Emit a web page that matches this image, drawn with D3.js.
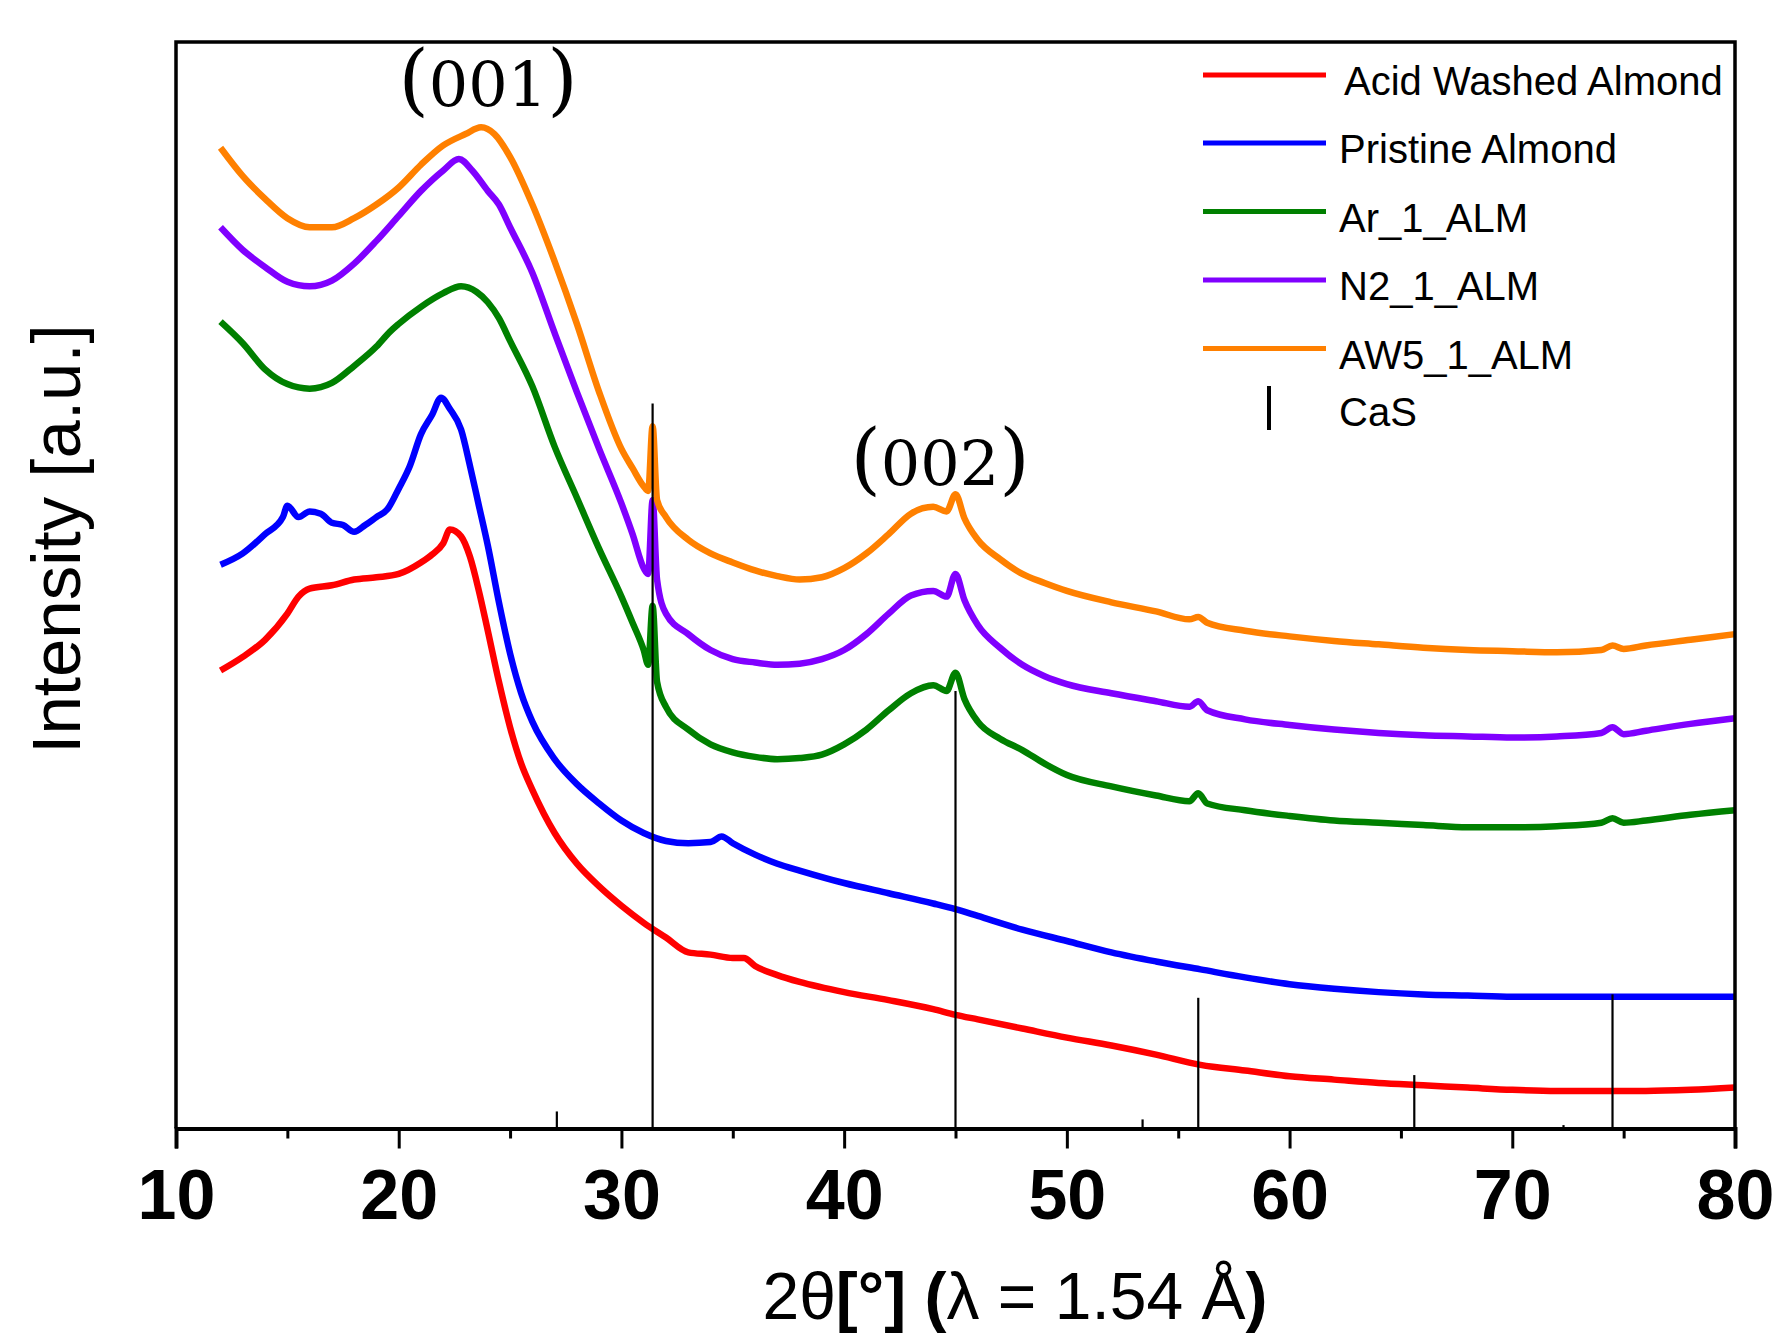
<!DOCTYPE html>
<html>
<head>
<meta charset="utf-8">
<script src="https://cdn.jsdelivr.net/npm/d3@7"></script>
<style>
  body { margin: 0; background: #fff; }
  svg { display: block; }
</style>
</head>
<body>
<div id="chart"></div>
<script>
const width = 1782;
const height = 1340;

// 2theta (deg) vs intensity (a.u., offset stacked)
const acidWashed = [[12,403],[13,415],[14,430],[15,453],[15.5,468],[16,475],[17,478],[18,483],[19,485],[20,488],[21,498],[21.5,505],[22,515],[22.3,527],[22.8,521],[23.2,503],[23.6,473],[24,438],[24.5,393],[25,353],[25.5,321],[26,298],[27,260],[28,233],[29,213],[30,196],[31,181],[32,168],[33,155],[34,153],[35,150],[35.5,150],[36,143],[37,135],[38,129],[40,120],[42,113],[44,105],[45,100],[46,96],[48,88],[50,80],[52,73],[54,65],[56,56],[58,51],[60,46],[62,43],[64,40],[66,38],[68,36],[70,34],[72,33],[74,33],[76,33],[78,34],[80,36]];

const pristine = [[12,496],[13,506],[14,523],[14.8,538],[15,548],[15.5,538],[16,543],[16.5,541],[17,533],[17.5,531],[18,525],[18.5,531],[19,538],[19.5,545],[20,563],[20.5,583],[21,611],[21.5,628],[21.9,643],[22.3,633],[22.8,615],[23.2,583],[23.6,548],[24,513],[24.5,463],[25,418],[25.5,383],[26,358],[27,325],[28,303],[29,286],[30,271],[31,260],[32,253],[33,251],[34,252],[34.5,257],[35,251],[36,241],[37,233],[38,227],[40,216],[42,207],[44,198],[45,193],[46,187],[48,175],[50,165],[52,155],[54,147],[56,140],[58,133],[60,127],[62,123],[64,120],[66,118],[68,117],[70,116],[72,116],[75,116],[78,116],[80,116]];

const ar1 = [[12,710],[13,691],[14,668],[15,655],[16,651],[17,656],[18,671],[19,688],[19.6,701],[20,708],[21,723],[22,735],[22.8,741],[23.5,736],[24,727],[24.5,713],[25,693],[26,653],[27,600],[28,555],[29,510],[30,468],[30.5,445],[31,421],[31.2,408],[31.4,460],[31.6,393],[32,371],[33,351],[34,338],[35,331],[36,327],[37,325],[38,326],[39,329],[40,338],[41,351],[42,368],[43,383],[44,390],[44.6,385],[45,401],[45.4,378],[46,358],[47,343],[48,333],[49,321],[50,311],[52,301],[54,293],[55.5,288],[55.9,295],[56.3,286],[58,280],[60,275],[62,271],[64,269],[66,267],[68,265],[70,265],[72,266],[74,269],[74.5,273],[75,269],[76,271],[78,276],[80,280]];

const n2 = [[12,793],[13,773],[14,758],[15,745],[16,741],[17,746],[18,761],[19,781],[20,803],[21,825],[22,843],[22.7,853],[23.3,843],[24,825],[24.5,813],[25,793],[26,753],[27,700],[28,648],[29,598],[30,550],[30.5,523],[31,493],[31.2,488],[31.4,553],[31.6,483],[32,453],[33,435],[34,421],[35,413],[36,410],[37,408],[38,409],[39,413],[40,421],[41,435],[42,453],[43,469],[44,473],[44.6,468],[45,488],[45.4,465],[46,443],[47,423],[48,408],[49,398],[50,391],[52,383],[54,376],[55.5,371],[55.9,376],[56.3,368],[58,360],[60,355],[62,351],[64,348],[66,346],[68,345],[70,344],[72,345],[74,348],[74.5,353],[75,347],[76,350],[78,356],[80,361]];

const aw5 = [[12,863],[13,838],[14,818],[15,801],[16,793],[17,793],[18,801],[19,813],[20,828],[21,848],[22,865],[23,875],[23.7,881],[24.3,875],[25,855],[26,813],[27,763],[28,708],[29,648],[30,598],[30.5,581],[31,565],[31.2,561],[31.4,618],[31.6,553],[32,538],[33,518],[34,506],[35,498],[36,491],[37,486],[38,483],[39,485],[40,493],[41,506],[42,523],[43,541],[44,547],[44.6,543],[45,558],[45.4,537],[46,518],[47,501],[48,488],[49,480],[50,473],[52,463],[54,455],[55.5,448],[55.9,450],[56.3,445],[58,438],[60,433],[62,429],[64,426],[66,423],[68,421],[70,420],[72,419],[74,421],[74.5,425],[75,422],[76,425],[78,430],[80,435]];

// CaS reference pattern (stick positions and heights)
const casTheta = [27.1, 31.4, 45.0, 53.4, 55.9, 65.6, 72.3, 74.5];
const casHeight = [15, 638, 385, 8, 115, 47, 3, 118];

const seriesNames = ["Acid Washed Almond", "Pristine Almond", "Ar_1_ALM", "N2_1_ALM", "AW5_1_ALM"];
const seriesColors = ["#ff0000", "#0000ff", "#008000", "#8000ff", "#ff8000"];
const seriesData = [acidWashed, pristine, ar1, n2, aw5];

const majorTicks = [10, 20, 30, 40, 50, 60, 70, 80];
const minorTicks = [15, 25, 35, 45, 55, 65, 75];

const plotLeft = 176, plotRight = 1735, plotTop = 42, plotBottom = 1128.5;

const svg = d3.select("#chart").append("svg")
    .attr("width", width)
    .attr("height", height);

const x = d3.scaleLinear().domain([10, 80]).range([plotLeft, plotRight]);
const y = d3.scaleLinear().domain([0, 956]).range([plotBottom, plotTop]);

const line = d3.line()
    .x(d => x(d[0]))
    .y(d => y(d[1]))
    .curve(d3.curveMonotoneX);

// curves
svg.append("g").selectAll("path")
    .data(seriesData)
    .join("path")
    .attr("d", line)
    .attr("fill", "none")
    .attr("stroke", (d, i) => seriesColors[i])
    .attr("stroke-width", 6.5)
    .attr("stroke-linejoin", "round");

// CaS sticks
svg.append("g").selectAll("line")
    .data(casTheta)
    .join("line")
    .attr("x1", d => x(d))
    .attr("x2", d => x(d))
    .attr("y1", y(0))
    .attr("y2", (d, i) => y(casHeight[i]))
    .attr("stroke", "#000")
    .attr("stroke-width", 2.2);

// frame
svg.append("path")
    .attr("d", `M${plotLeft},${plotBottom}V${plotTop}H${plotRight}V${plotBottom}`)
    .attr("stroke", "#000")
    .attr("stroke-width", 3.5)
    .attr("fill", "none");

// x axis
const xAxis = svg.append("g")
    .attr("transform", `translate(0,${plotBottom})`)
    .call(d3.axisBottom(x).tickValues(majorTicks).tickSize(20).tickPadding(21).tickFormat(d3.format("d")));
xAxis.select(".domain").attr("stroke-width", 4);
xAxis.selectAll(".tick line").attr("stroke-width", 3);
xAxis.selectAll("text")
    .attr("font-family", "'Liberation Sans', Arial, sans-serif")
    .attr("font-weight", "bold")
    .attr("font-size", 70)
    .attr("fill", "#000");

const xMinor = svg.append("g")
    .attr("transform", `translate(0,${plotBottom})`)
    .call(d3.axisBottom(x).tickValues(minorTicks).tickSize(10).tickFormat(""));
xMinor.select(".domain").remove();
xMinor.selectAll(".tick line").attr("stroke-width", 3);

// axis titles
const xTitle = svg.append("text")
    .attr("x", 1015)
    .attr("y", 1319)
    .attr("text-anchor", "middle")
    .attr("font-family", "'Liberation Sans', Arial, sans-serif")
    .attr("font-size", 66)
    .attr("fill", "#000");
xTitle.append("tspan").text("2θ");
xTitle.append("tspan").attr("font-weight", "bold").text("[°] (");
xTitle.append("tspan").text("λ = 1.54 Å");
xTitle.append("tspan").attr("font-weight", "bold").text(")");

svg.append("text")
    .attr("transform", `translate(80,539) rotate(-90)`)
    .attr("text-anchor", "middle")
    .attr("font-family", "'Liberation Sans', Arial, sans-serif")
    .attr("font-size", 69)
    .attr("fill", "#000")
    .text("Intensity [a.u.]");

// peak labels
const peakLabels = [
    {text: "001", x: 488, y: 106},
    {text: "002", x: 940, y: 485}
];
peakLabels.forEach(p => {
    const t = svg.append("text")
        .attr("x", p.x)
        .attr("y", p.y)
        .attr("text-anchor", "middle")
        .attr("font-family", "'DejaVu Serif', serif")
        .attr("fill", "#000");
    t.append("tspan").attr("font-size", 78).text("(");
    t.append("tspan").attr("font-size", 62).text(p.text);
    t.append("tspan").attr("font-size", 78).text(")");
});

// legend
const legendRows = [75, 143, 211.5, 280, 348.5];
const legend = svg.append("g");
seriesNames.forEach((name, i) => {
    legend.append("line")
        .attr("x1", 1203).attr("x2", 1326)
        .attr("y1", legendRows[i]).attr("y2", legendRows[i])
        .attr("stroke", seriesColors[i])
        .attr("stroke-width", 5);
    legend.append("text")
        .attr("x", i === 0 ? 1344 : 1339)
        .attr("y", legendRows[i] + 20)
        .attr("font-family", "'Liberation Sans', Arial, sans-serif")
        .attr("font-size", 40)
        .attr("fill", "#000")
        .text(name);
});
legend.append("line")
    .attr("x1", 1269).attr("x2", 1269)
    .attr("y1", 386).attr("y2", 430)
    .attr("stroke", "#000")
    .attr("stroke-width", 4);
legend.append("text")
    .attr("x", 1339)
    .attr("y", 426)
    .attr("font-family", "'Liberation Sans', Arial, sans-serif")
    .attr("font-size", 40)
    .attr("fill", "#000")
    .text("CaS");
</script>
</body>
</html>
